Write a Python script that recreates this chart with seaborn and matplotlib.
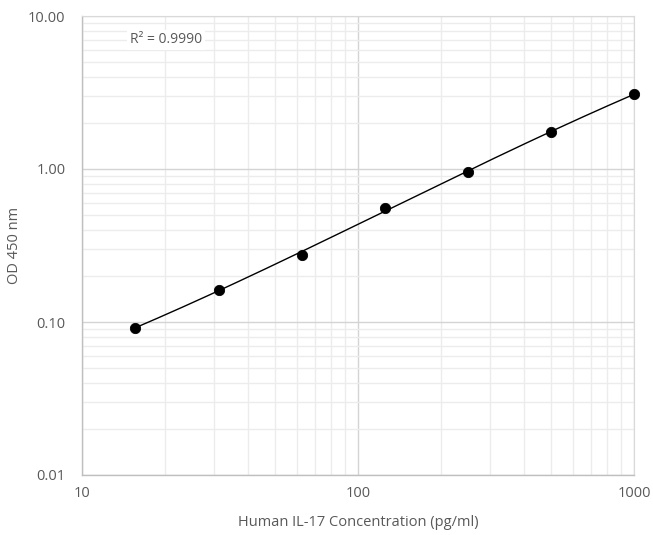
import numpy as np
import pandas as pd
import matplotlib
matplotlib.use('Agg')
import matplotlib.pyplot as plt
import seaborn as sns
from matplotlib.ticker import FixedLocator, LogLocator, NullFormatter

# standard curve data
conc = [15.6, 31.25, 62.5, 125, 250, 500, 1000]
od = [0.0915, 0.163, 0.275, 0.558, 0.955, 1.745, 3.09]
r2_text = 'R² = 0.9990'

x_ticks = [10, 100, 1000]
x_ticklabels = ['10', '100', '1000']
y_ticks = [0.01, 0.1, 1, 10]
y_ticklabels = ['0.01', '0.10', '1.00', '10.00']

df = pd.DataFrame({'conc': conc, 'od': od})

# smooth trend curve through points (cubic fit in log-log space)
lx = np.log10(df['conc'])
ly = np.log10(df['od'])
coef = np.polyfit(lx, ly, 3)
xs = np.logspace(lx.min(), lx.max(), 200)
curve = pd.DataFrame({'conc': xs, 'od': 10 ** np.polyval(coef, np.log10(xs))})

sns.set_style('white')
plt.rcParams['font.family'] = ['Open Sans', 'DejaVu Sans']

fig = plt.figure(figsize=(6.53, 5.35), dpi=100)
ax = fig.add_axes([82 / 653, 1 - 475 / 535, (634 - 82) / 653, (475 - 16) / 535])
ax.set_xscale('log')
ax.set_yscale('log')
ax.set_xlim(10, 1000)
ax.set_ylim(0.01, 10)

# grid
ax.xaxis.set_minor_locator(LogLocator(base=10, subs=np.arange(2, 10)))
ax.yaxis.set_minor_locator(LogLocator(base=10, subs=np.arange(2, 10)))
ax.xaxis.set_minor_formatter(NullFormatter())
ax.yaxis.set_minor_formatter(NullFormatter())
ax.grid(which='minor', color='#ececec', linewidth=1.0)
ax.grid(which='major', color='#d4d4d4', linewidth=1.0)
ax.set_axisbelow(True)

sns.lineplot(data=curve, x='conc', y='od', ax=ax, color='black', linewidth=1.0)
sns.scatterplot(data=df, x='conc', y='od', ax=ax, color='black', s=55,
                edgecolor='black', zorder=5, clip_on=False)

ax.xaxis.set_major_locator(FixedLocator(x_ticks))
ax.set_xticklabels(x_ticklabels)
ax.yaxis.set_major_locator(FixedLocator(y_ticks))
ax.set_yticklabels(y_ticklabels)
ax.tick_params(axis='both', which='both', length=0, labelsize=10.5, colors='#595959')
ax.tick_params(axis='x', pad=8)
ax.tick_params(axis='y', pad=12)

for side in ['left', 'bottom']:
    ax.spines[side].set_color('#bfbfbf')
    ax.spines[side].set_linewidth(1.0)
for side in ['top', 'right']:
    ax.spines[side].set_color('#d9d9d9')
    ax.spines[side].set_linewidth(0.8)

ax.set_xlabel('')
ax.set_ylabel('')
fig.text(358 / 653, 1 - 522 / 535, 'Human IL-17 Concentration (pg/ml)', fontsize=10.5,
         color='#595959', ha='center', va='center')
fig.text(15 / 653, 1 - 245 / 535, 'OD 450 nm', fontsize=10.5, color='#595959',
         ha='center', va='center', rotation=90)

ax.text(0.087, 0.948, r2_text, transform=ax.transAxes, fontsize=10, color='#595959',
        ha='left', va='center', bbox=dict(facecolor='white', edgecolor='none', pad=2))

fig.savefig('out.png', dpi=100)
